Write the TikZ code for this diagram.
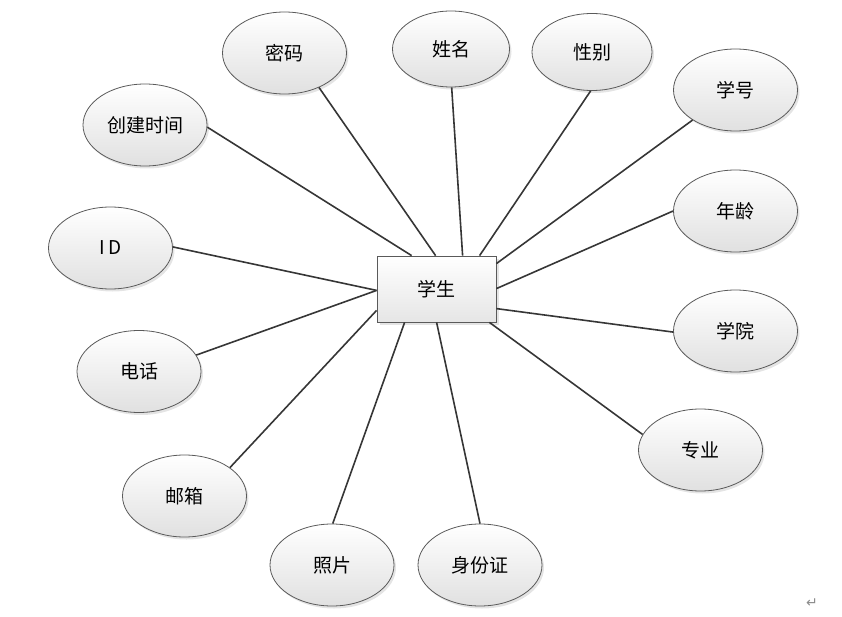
\documentclass[tikz,border=0pt]{standalone}
\usepackage{fontspec}
\setmainfont{Noto Sans CJK SC}
\newfontfamily\symfont{DejaVu Sans}
\usetikzlibrary{shapes.geometric,shadows}
\definecolor{linec}{HTML}{363636}
\definecolor{bordc}{HTML}{5A5A5A}
\tikzset{
  attr/.style={ellipse, draw=bordc, line width=0.8pt, top color=white, bottom color=black!12,
    minimum width=124pt, minimum height=82pt, inner sep=0pt, font=\fontsize{19}{19}\selectfont,
    drop shadow={shadow xshift=2pt, shadow yshift=-2.5pt, fill=black!30, opacity=0.35}},
  ent/.style={rectangle, draw=bordc, line width=0.8pt, top color=white, bottom color=black!10,
    minimum width=119pt, minimum height=66pt, inner sep=0pt, font=\fontsize{19}{19}\selectfont,
    drop shadow={shadow xshift=2.5pt, shadow yshift=-3pt, fill=black!30, opacity=0.35}},
  conn/.style={draw=linec, line width=1.6pt}
}
\begin{document}
\begin{tikzpicture}[x=1pt,y=-1pt]
\useasboundingbox (0,0) rectangle (842,617);
\node[ent] (s) at (436.5,289) {学生};
\node[attr] (mm) at (284.5,53) {密码};
\node[attr, minimum width=117pt, minimum height=76pt] (xm) at (451,49) {姓名};
\node[attr, minimum width=120pt, minimum height=77pt] (xb) at (592,52) {性别};
\node[attr] (xh) at (735.5,90) {学号};
\node[attr] (cj) at (145,125) {创建时间};
\node[attr] (nl) at (735.5,211) {年龄};
\node[attr] (id) at (110.5,248) {I\,D};
\node[attr] (xy) at (735.5,331) {学院};
\node[attr] (dh) at (139,371.5) {电话};
\node[attr] (zy) at (700.5,450) {专业};
\node[attr] (yx) at (184.5,496) {邮箱};
\node[attr] (zp) at (332,565) {照片};
\node[attr] (sf) at (480,565) {身份证};
\node[text=black!45, font=\symfont\fontsize{14}{14}\selectfont] (pm) at (812,603) {↵};
\draw[conn] (cj.-2) -- ([xshift=35pt]s.north west);
\draw[conn] (mm.-45) -- ([xshift=59pt]s.north west);
\draw[conn] (xm.-89) -- ([xshift=86pt]s.north west);
\draw[conn] (xb.-92) -- ([xshift=103pt]s.north west);
\draw[conn] (xh.-145) -- ([yshift=-8pt]s.north east);
\draw[conn] (nl.180) -- ([yshift=-33pt]s.north east);
\draw[conn] (xy.181) -- ([yshift=-53pt]s.north east);
\draw[conn] (zy.165) -- ([xshift=-7pt]s.south east);
\draw[conn] (sf.90) -- ([xshift=60pt]s.south west);
\draw[conn] (zp.89) -- ([xshift=28pt]s.south west);
\draw[conn] (yx.32) -- ([yshift=12pt]s.south west);
\draw[conn] (dh.16) -- ([yshift=32pt]s.south west);
\draw[conn] (id.1) -- ([yshift=32pt]s.south west);
\end{tikzpicture}
\end{document}
